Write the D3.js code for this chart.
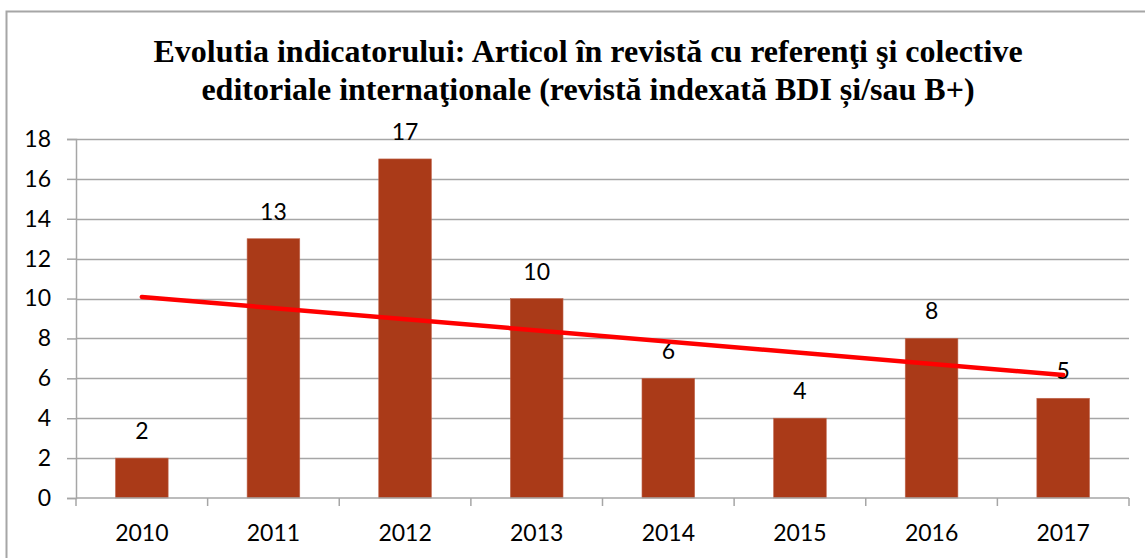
<!DOCTYPE html>
<html>
<head>
<meta charset="utf-8">
<script src="https://cdn.jsdelivr.net/npm/d3@7"></script>
<style>
  body { margin: 0; background: #fff; }
  svg text { fill: #000; }
  .tick text { font-family: Lato, "Open Sans", sans-serif; font-size: 23px; }
  .title { font-family: "Liberation Serif", serif; font-weight: bold; font-size: 32px; }
</style>
</head>
<body>
<svg id="chart"></svg>
<script>
const years = ['2010', '2011', '2012', '2013', '2014', '2015', '2016', '2017'];
const values = [2, 13, 17, 10, 6, 4, 8, 5];
const yTicks = [0, 2, 4, 6, 8, 10, 12, 14, 16, 18];
const titleLines = [
  'Evolutia indicatorului: Articol în revistă cu referenţi şi colective',
  'editoriale internaţionale (revistă indexată BDI și/sau B+)'
];

const W = 1145, H = 558;
const margin = {top: 139, right: 16, bottom: 60, left: 76};
const width = W - margin.left - margin.right;
const height = H - margin.top - margin.bottom;

const svg = d3.select('#chart').attr('width', W).attr('height', H);

// outer frame
svg.append('rect')
  .attr('x', 6.5).attr('y', 11.5)
  .attr('width', W + 10).attr('height', H + 10)
  .attr('fill', 'none').attr('stroke', '#a6a6a6').attr('stroke-width', 2);

// title
svg.append('g').selectAll('text')
  .data(titleLines)
  .join('text')
  .attr('class', 'title')
  .attr('x', 588)
  .attr('y', (d, i) => 62 + i * 38)
  .attr('text-anchor', 'middle')
  .text(d => d);

const chart = svg.append('g')
  .attr('transform', `translate(${margin.left},${margin.top})`);

const x = d3.scaleBand().domain(years).range([0, width]).paddingInner(0.6).paddingOuter(0.3);
const xOuter = d3.scaleBand().domain(years).range([0, width]);
const y = d3.scaleLinear().domain([0, 18]).range([height, 0]);

// gridlines
chart.append('g')
  .selectAll('line')
  .data(yTicks.filter(d => d > 0))
  .join('line')
  .attr('x1', 0).attr('x2', width)
  .attr('y1', d => Math.round(y(d)) + 0.5).attr('y2', d => Math.round(y(d)) + 0.5)
  .attr('stroke', '#a6a6a6').attr('stroke-width', 1.5);

// y axis
const yAxisG = chart.append('g')
  .call(d3.axisLeft(y).tickValues(yTicks).tickSize(9).tickPadding(16));
yAxisG.select('.domain').attr('stroke', '#a6a6a6').attr('stroke-width', 1.5);
yAxisG.selectAll('.tick line').attr('stroke', '#a6a6a6').attr('stroke-width', 1.5);

// bars
chart.append('g')
  .selectAll('rect')
  .data(values)
  .join('rect')
  .attr('x', (d, i) => x(years[i]))
  .attr('y', d => y(d))
  .attr('width', x.bandwidth())
  .attr('height', d => height - y(d))
  .attr('fill', '#aa3a18')
  .attr('stroke', '#c0674f')
  .attr('stroke-width', 0.6);

// x axis
const xAxisG = chart.append('g')
  .attr('transform', `translate(0,${height})`)
  .call(d3.axisBottom(xOuter).tickSize(0).tickPadding(27));
xAxisG.select('.domain').remove();
xAxisG.append('line')
  .attr('x1', 0).attr('x2', width).attr('y1', 0).attr('y2', 0)
  .attr('stroke', '#a6a6a6').attr('stroke-width', 1.5);
xAxisG.selectAll('.sep')
  .data(d3.range(years.length + 1))
  .join('line')
  .attr('class', 'sep')
  .attr('x1', i => i * xOuter.step()).attr('x2', i => i * xOuter.step())
  .attr('y1', 0).attr('y2', 8)
  .attr('stroke', '#a6a6a6').attr('stroke-width', 1.5);

// value labels
chart.append('g')
  .selectAll('text')
  .data(values)
  .join('text')
  .attr('x', (d, i) => x(years[i]) + x.bandwidth() / 2)
  .attr('y', d => y(d) - 19)
  .attr('text-anchor', 'middle')
  .style('font-family', 'Lato, "Open Sans", sans-serif')
  .style('font-size', '23px')
  .text(d => d);

// linear trend line
const xs = d3.range(values.length);
const mx = d3.mean(xs), my = d3.mean(values);
const slope = d3.sum(xs, i => (i - mx) * (values[i] - my)) / d3.sum(xs, i => (i - mx) ** 2);
const intercept = my - slope * mx;
const trend = xs.map(i => [i, intercept + slope * i]);

chart.append('path')
  .datum([trend[0], trend[trend.length - 1]])
  .attr('fill', 'none')
  .attr('stroke', '#ff0000')
  .attr('stroke-width', 4.5)
  .attr('stroke-linecap', 'round')
  .attr('d', d3.line()
    .x(d => xOuter(years[d[0]]) + xOuter.bandwidth() / 2)
    .y(d => y(d[1])));
</script>
</body>
</html>
